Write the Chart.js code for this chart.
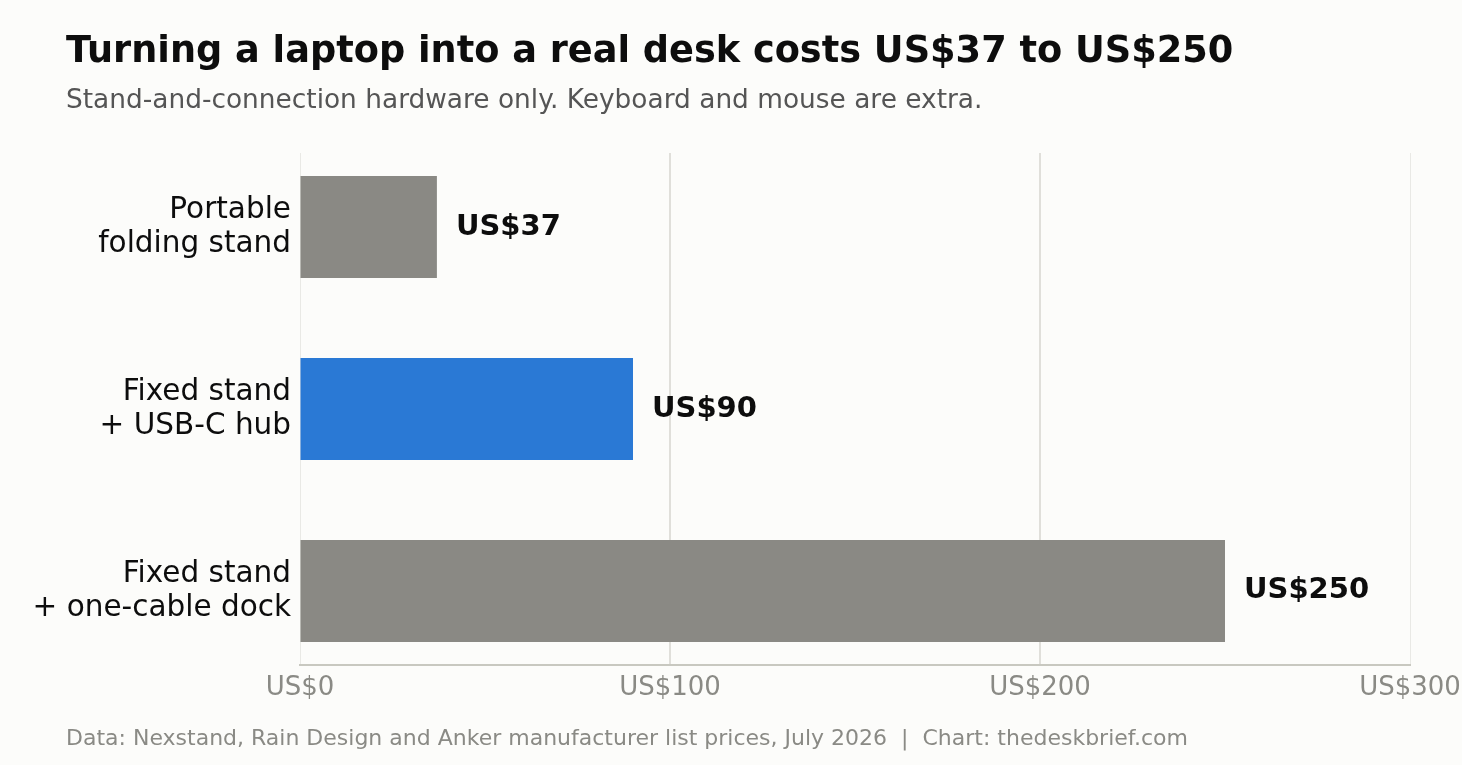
<!DOCTYPE html>
<html>
<head>
<meta charset="utf-8">
<script src="https://cdn.jsdelivr.net/npm/chart.js@4.4.1/dist/chart.umd.min.js"></script>
<style>
  html, body { margin: 0; padding: 0; background: #fcfcfa; }
  body { width: 1462px; height: 765px; position: relative; overflow: hidden; font-family: "DejaVu Sans", sans-serif; }
  #wrap { position: absolute; left: 0; top: 0; width: 1462px; height: 765px; }
  .txt { position: absolute; left: 66px; white-space: nowrap; line-height: 1; }
  #title { top: 32px; font-size: 36.7px; font-weight: bold; color: #0d0d0d; }
  #subtitle { top: 86px; font-size: 26.4px; color: #555555; }
  #footer { top: 727px; font-size: 22px; color: #8a8a85; }
</style>
</head>
<body>
<div id="wrap"><canvas id="chart"></canvas></div>
<div class="txt" id="title">Turning a laptop into a real desk costs US$37 to US$250</div>
<div class="txt" id="subtitle">Stand-and-connection hardware only. Keyboard and mouse are extra.</div>
<div class="txt" id="footer">Data: Nexstand, Rain Design and Anker manufacturer list prices, July 2026&nbsp; |&nbsp; Chart: thedeskbrief.com</div>
<script>
// DATA
const categories = [
    ["Portable", "folding stand"],
    ["Fixed stand", "+ USB-C hub"],
    ["Fixed stand", "+ one-cable dock"]
];
const prices = [37, 90, 250];
const barColors = ["#8a8984", "#2a79d5", "#8a8984"];
const xTicks = [0, 100, 200, 300];

// VALUE LABELS NEXT TO EACH BAR
const valueLabels = {
    id: "valueLabels",
    afterDatasetsDraw(chart) {
        const ctx = chart.ctx;
        const meta = chart.getDatasetMeta(0);
        ctx.save();
        ctx.font = "bold 29px 'DejaVu Sans'";
        ctx.fillStyle = "#0d0d0d";
        ctx.textAlign = "left";
        ctx.textBaseline = "middle";
        meta.data.forEach((bar, i) => {
            ctx.fillText("US$" + prices[i], bar.x + 19, bar.y);
        });
        ctx.restore();
    }
};

// ENDS OF THE VALUE AXIS GET A LIGHTER, THINNER GRIDLINE
const isEdge = (c) => c.tick && (c.tick.value === xTicks[0] || c.tick.value === xTicks[xTicks.length - 1]);

const ctx = document.getElementById("chart").getContext("2d");
new Chart(ctx, {
    type: "bar",
    data: {
        datasets: [{
            data: prices.map((p, i) => ({ x: p, y: i })),
            backgroundColor: barColors,
            borderWidth: 0,
            barPercentage: 0.56,
            categoryPercentage: 1
        }]
    },
    options: {
        indexAxis: "y",
        responsive: true,
        maintainAspectRatio: false,
        animation: false,
        layout: { padding: { top: 153, right: 52, bottom: 50, left: 0 } },
        plugins: {
            legend: { display: false },
            tooltip: { enabled: false }
        },
        scales: {
            x: {
                type: "linear",
                min: 0,
                max: 300,
                afterBuildTicks: (axis) => { axis.ticks = xTicks.map(v => ({ value: v })); },
                afterFit: (axis) => {
                    axis.height = 50;
                    axis.paddingLeft = 0;
                    axis.paddingRight = 0;
                },
                grid: {
                    color: (c) => isEdge(c) ? "#e9e9e5" : "#e0dfda",
                    lineWidth: (c) => isEdge(c) ? 1 : 2,
                    drawTicks: false
                },
                border: { display: true, color: "#c8c8c0", width: 2 },
                ticks: {
                    padding: 8,
                    color: "#8a8a85",
                    font: { family: "'DejaVu Sans'", size: 26 },
                    callback: (v) => "US$" + v
                }
            },
            y: {
                type: "linear",
                reverse: true,
                offset: false,
                min: -0.407,
                max: 2.407,
                afterBuildTicks: (axis) => { axis.ticks = categories.map((c, i) => ({ value: i })); },
                afterFit: (axis) => { axis.width = 300; },
                grid: { display: false, drawTicks: false, offset: false },
                border: { display: false },
                ticks: {
                    padding: 9,
                    color: "#0d0d0d",
                    font: { family: "'DejaVu Sans'", size: 29.5, lineHeight: 1.15 },
                    callback: (v) => categories[v]
                }
            }
        }
    },
    plugins: [valueLabels]
});
</script>
</body>
</html>
